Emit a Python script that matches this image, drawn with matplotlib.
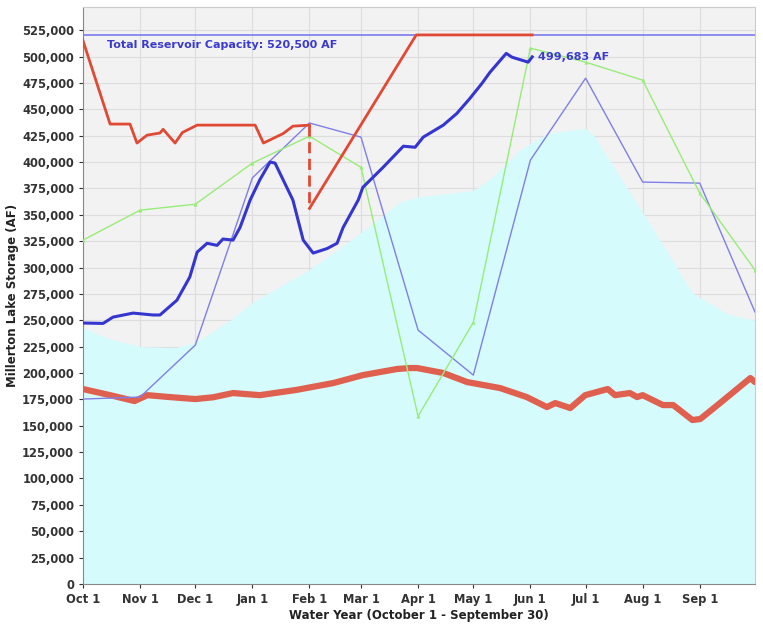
import numpy as np
import matplotlib.pyplot as plt

# day of water year (Oct 1 = 0)
month_days = [0, 31, 61, 92, 123, 151, 182, 212, 243, 273, 304, 335, 365]
month_labels = ['Oct 1', 'Nov 1', 'Dec 1', 'Jan 1', 'Feb 1', 'Mar 1', 'Apr 1',
                'May 1', 'Jun 1', 'Jul 1', 'Aug 1', 'Sep 1']

capacity = 520500

# cyan shaded envelope
env_days = [0, 15, 31, 50, 61, 80, 92, 108, 123, 151, 172, 182, 212, 222, 237,
            252, 273, 278, 304, 331, 350, 365]
env_vals = [243000, 232000, 225000, 224000, 229000, 250000, 267000, 283000,
            298000, 333000, 362000, 367000, 373000, 385000, 411000, 427000,
            432000, 424000, 352000, 276000, 256000, 250000]

# flood control curve (before and after Feb 1 drop)
fc1_days = [0, 14.7, 25.5, 29.3, 34.8, 41.8, 43.5, 50, 54, 62, 93.5, 98, 101.6,
            108.7, 114, 123]
fc1_vals = [515000, 436000, 436000, 418000, 425500, 427500, 431000, 418000,
            428000, 435000, 435000, 418000, 421000, 427000, 434000, 435000]
fc2_days = [123, 181, 244]
fc2_vals = [356000, 520500, 520500]

# current year storage
cur_days = [0, 10.9, 16.3, 27.2, 38, 41.8, 51, 58, 62, 67.4, 72.8, 76, 81.5,
            85.3, 90.8, 96, 101.6, 104.3, 114, 119.6, 125, 132.6, 138, 141.3,
            145, 149.5, 152, 163, 174, 180.4, 184.8, 195.7, 203, 210, 216.8,
            221, 229.9, 233, 241.8, 244]
cur_vals = [247400, 247000, 253000, 256800, 255000, 255000, 269000, 291000,
            314600, 323000, 321000, 327000, 326000, 338000, 364000, 383000,
            400000, 399000, 364000, 326000, 313700, 318000, 323000, 338000,
            349700, 364000, 376000, 395000, 415000, 414000, 423600, 435000,
            446000, 460000, 474800, 485000, 503000, 499400, 494700, 499683]

# monthly series
blue_vals = [175300, 177200, 226500, 385000, 437000, 423600, 240700, 198000,
             401800, 479500, 381000, 380000, 257800]
green_vals = [326000, 354400, 360000, 399000, 424500, 395000, 159000, 248000,
              508000, 494700, 477600, 370500, 297600]

# thick salmon series
sal_days = [0, 14.7, 28, 35, 47, 61, 70.7, 81.5, 96, 116, 136, 152, 170.6,
            177.7, 181.5, 195.7, 208.7, 226.6, 241, 252, 256.5, 264.7, 272.8,
            285, 289, 297, 301, 304, 315, 320.6, 331, 335.3, 346, 362.5, 365]
sal_vals = [184800, 179000, 173400, 179000, 177200, 175300, 177000, 181000,
            179000, 184000, 190500, 198000, 203800, 204700, 204700, 200000,
            191400, 185700, 177200, 167700, 171500, 166800, 179000, 184800,
            179000, 181000, 177200, 179000, 169600, 169600, 155400, 156400,
            171500, 195200, 191400]

fig = plt.figure(figsize=(7.63, 6.28), dpi=100)
ax = fig.add_axes([0.1088, 0.0701, 0.8807, 0.9188])
ax.set_facecolor('#f2f2f2')

ax.fill_between(env_days, 0, env_vals, color='#d6fbfd', lw=0, zorder=1)

ax.axhline(capacity, color='#7b7bef', lw=1.2, zorder=3)
ax.text(13, capacity - 4500, 'Total Reservoir Capacity: 520,500 AF',
        color='#3a3ad0', fontsize=8, fontweight='bold', va='top', zorder=6)

ax.plot(sal_days, sal_vals, color='#e0604f', lw=4.5, solid_capstyle='round', zorder=3)
ax.plot(month_days, blue_vals, color='#7f7fe8', lw=1, zorder=4)
ax.plot(month_days, green_vals, color='#98ec78', lw=1, marker='^', ms=3,
        markeredgewidth=0, zorder=4)

ax.plot(fc1_days, fc1_vals, color='#e04a35', lw=2, zorder=5)
ax.plot([123, 123], [fc1_vals[-1], fc2_vals[0]], color='#e04a35', lw=2,
        ls=(0, (4, 2)), zorder=5)
ax.plot(fc2_days, fc2_vals, color='#e04a35', lw=2, zorder=5)

ax.plot(cur_days, cur_vals, color='#3535cf', lw=2.2, zorder=6)
ax.text(cur_days[-1] + 3, cur_vals[-1], '{:,} AF'.format(cur_vals[-1]),
        color='#3a3ad0', fontsize=8, fontweight='bold', va='center', zorder=6)

ax.set_xlim(0, 365)
ax.set_ylim(0, 547000)
ax.set_xticks(month_days[:-1])
ax.set_xticklabels(month_labels)
yt = np.arange(0, 525001, 25000)
ax.set_yticks(yt)
ax.set_yticklabels(['{:,}'.format(v) for v in yt])
ax.tick_params(labelsize=8.3, colors='#333333', length=3, width=0.8)
for lab in ax.get_xticklabels() + ax.get_yticklabels():
    lab.set_fontweight('bold')

ax.grid(True, color='#dddddd', lw=0.8)
ax.set_axisbelow(True)
for s in ['top', 'right']:
    ax.spines[s].set_color('#cccccc')
for s in ['left', 'bottom']:
    ax.spines[s].set_color('#888888')

ax.set_xlabel('Water Year (October 1 - September 30)', fontsize=8.5,
              fontweight='bold', color='#222222', labelpad=2)
ax.set_ylabel('Millerton Lake Storage (AF)', fontsize=8.5, fontweight='bold',
              color='#222222', labelpad=2)

fig.savefig('out.png', dpi=100)
